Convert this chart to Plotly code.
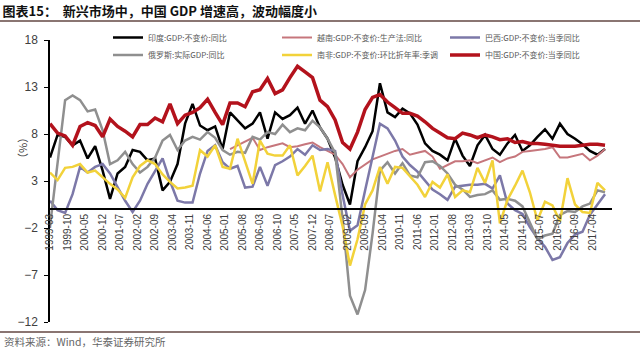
import pandas as pd
import plotly.graph_objects as go

# ---------------- data ----------------
quarters = pd.date_range("1999-03-01", periods=75, freq="3MS")

tick_labels = ["1999-03", "1999-10", "2000-05", "2000-12", "2001-07", "2002-02", "2002-09",
               "2003-04", "2003-11", "2004-06", "2005-01", "2005-08", "2006-03", "2006-10",
               "2007-05", "2007-12", "2008-07", "2009-02", "2009-09", "2010-04", "2010-11",
               "2011-06", "2012-01", "2012-08", "2013-03", "2013-10", "2014-05", "2014-12",
               "2015-07", "2016-02", "2016-09", "2017-04"]

india = [5.5, 7.9, 7.7, 6.8, 7.3, 5.4, 6.7, 4.1, 1.1, 3.8, 4.5, 6.3, 6.1, 5.2, 5.4, 2.0,
         2.9, 4.8, 9.1, 11.2, 8.9, 8.4, 8.8, 6.4, 10.3, 9.5, 8.6, 9.1, 10.3, 7.5, 10.3, 9.6,
         10.0, 10.8, 9.1, 10.5, 8.7, 7.5, 5.5, 2.6, 0.5, 5.1, 6.6, 8.3, 13.4, 10.3, 9.8, 10.7,
         10.2, 9.0, 7.0, 6.2, 5.8, 5.2, 7.5, 5.7, 4.6, 6.8, 7.9, 6.4, 5.8, 7.0, 7.9, 6.2,
         6.8, 7.7, 8.5, 7.5, 9.1, 8.0, 7.5, 6.9, 6.2, 5.8, 6.4]

vietnam = [None] * 24 + [
         6.4, 6.8, 7.2, 7.6, 6.3, 6.6, 6.8, 7.0,
         6.6, 6.7, 6.9, 7.1, 6.6, 6.2, 5.8, 4.8, 3.4, 4.2, 4.8, 5.3, 5.6, 5.9, 6.2, 6.4,
         5.8, 6.0, 6.2, 5.6, 4.3, 4.7, 5.1, 5.1, 5.2, 4.9, 5.2, 5.5, 5.0, 5.4, 5.6, 6.1,
         6.2, 6.3, 6.4, 6.6, 5.5, 5.5, 5.7, 5.9, 5.2, 5.7, 6.4]

brazil = [0.9, -0.1, -0.4, 1.6, 4.5, 3.9, 4.5, 4.8, 3.8, 2.3, 0.9, -0.3, 0.9, 2.7, 4.1, 5.4,
          3.0, 0.9, 0.7, 0.7, 3.8, 6.2, 6.8, 5.0, 4.3, 4.6, 2.3, 2.4, 4.5, 2.5, 4.7, 5.1,
          5.6, 6.4, 5.8, 6.8, 6.3, 6.4, 6.2, 1.5, -2.3, -1.7, 2.0, 5.5, 9.1, 8.6, 7.3, 5.6,
          4.7, 4.0, 3.0, 2.1, 1.6, 1.0, 2.4, 2.5, 2.6, 2.6, 2.7, 2.2, 3.6, 0.6, -0.1, -0.5,
          -1.9, -3.1, -4.0, -5.4, -5.1, -3.6, -2.7, -2.4, -0.6, 0.5, 1.6]

russia = [-1.8, 4.8, 11.6, 12.1, 11.6, 10.4, 10.6, 8.4, 4.8, 5.2, 6.1, 4.8, 3.9, 4.5, 5.5, 7.3,
          7.9, 6.3, 7.3, 7.7, 7.4, 8.2, 7.6, 6.3, 5.8, 6.1, 6.0, 7.7, 7.4, 8.2, 8.0, 9.0,
          8.2, 8.6, 8.4, 9.4, 8.7, 7.5, 6.0, -1.0, -9.2, -11.2, -8.6, -2.6, 4.1, 5.0, 3.8, 4.9,
          3.6, 3.4, 5.0, 5.1, 4.6, 3.8, 2.6, 2.1, 1.3, 1.5, 1.6, 2.0, 1.0, 1.1, 0.9, 0.3,
          -1.5, -3.2, -2.8, -2.6, -0.6, -0.2, -0.3, 0.3, 0.6, 2.0, 1.8]

south_africa = [3.9, 3.1, 4.4, 4.5, 4.8, 3.9, 4.1, 3.4, 2.7, 2.1, 1.2, 3.4, 4.6, 5.2, 4.8, 3.7,
                2.9, 2.2, 2.3, 2.5, 6.3, 5.6, 6.8, 4.5, 4.3, 7.5, 5.2, 2.7, 7.3, 5.9, 5.7, 5.7,
                6.8, 3.6, 4.6, 5.7, 1.9, 5.0, 1.5, -1.8, -6.0, -3.2, 0.5, 2.0, 4.5, 2.7, 4.5, 4.4,
                3.5, 2.6, 1.3, 2.9, 2.3, 3.7, 1.3, 2.0, 1.8, 4.4, 2.8, 5.2, -1.5, 1.0, 2.5, 4.1,
                1.8, -1.2, 0.8, 0.4, -1.3, 3.3, 0.5, -0.3, -0.4, 2.8, 2.0]

china = [9.1, 8.1, 7.8, 6.8, 8.8, 9.2, 8.9, 7.7, 9.6, 8.8, 8.3, 7.7, 9.0, 9.0, 9.7, 9.3,
         11.2, 9.1, 10.0, 10.3, 10.8, 11.7, 10.3, 9.0, 11.3, 11.3, 10.9, 12.5, 12.7, 13.9, 12.3, 12.7,
         14.0, 15.2, 14.6, 14.0, 11.6, 10.9, 9.5, 7.1, 6.4, 8.2, 10.6, 11.9, 12.2, 11.4, 10.8, 10.2,
         10.2, 9.9, 9.3, 8.6, 8.1, 7.6, 7.5, 8.1, 7.9, 7.6, 7.9, 7.7, 7.4, 7.5, 7.1, 7.2,
         7.0, 7.0, 6.9, 6.8, 6.7, 6.7, 6.7, 6.8, 6.9, 6.9, 6.8]

series_names = ["印度:GDP:不变价:同比", "越南:GDP:不变价:生产法:同比", "巴西:GDP:不变价:当季同比",
                "俄罗斯:实际GDP:同比", "南非:GDP:不变价:环比折年率:季调", "中国:GDP:不变价:当季同比"]
series_values = [india, vietnam, brazil, russia, south_africa, china]
series_colors = ["#000000", "#C6767C", "#7C78A8", "#8F8F8F", "#F2D23A", "#B3121C"]
series_widths = [2.5, 2.0, 2.5, 2.5, 2.5, 3.5]

title_text = "<b>图表15：  新兴市场中，中国 GDP 增速高，波动幅度小</b>"
source_text = "资料来源：Wind，华泰证券研究所"

# ---------------- layout helpers (pixel -> paper) ----------------
W, H = 640, 352
ML, MR, MT, MB = 50, 28, 40, 30
PW, PH = W - ML - MR, H - MT - MB


def px(xp):
    return (xp - ML) / PW


def py(yp):
    return (H - MB - yp) / PH


CJK = "Noto Sans CJK SC"
LAT = "Liberation Sans, Arial, sans-serif"

fig = go.Figure()

legend_pos = [(113, 37.5), (282, 37.5), (450, 37.5), (113, 55), (282, 55), (450, 55)]
legend_keys = ["legend", "legend2", "legend3", "legend4", "legend5", "legend6"]

for name, vals, col, w, lk in zip(series_names, series_values, series_colors, series_widths, legend_keys):
    fig.add_trace(go.Scatter(x=quarters, y=vals, mode="lines", name=name,
                             line=dict(color=col, width=w), legend=lk,
                             connectgaps=False))

legend_layout = {}
for lk, (lx, ly) in zip(legend_keys, legend_pos):
    legend_layout[lk] = dict(x=px(lx - 5), y=py(ly), xanchor="left", yanchor="middle",
                             orientation="h", bgcolor="rgba(0,0,0,0)", borderwidth=0,
                             font=dict(family=CJK, size=8, color="#595959"), itemwidth=30)

fig.update_layout(
    width=W, height=H,
    margin=dict(l=ML, r=MR, t=MT, b=MB, pad=0),
    paper_bgcolor="white", plot_bgcolor="white",
    showlegend=True,
    title=dict(text=title_text, xref="container", yref="container", x=0.004, y=1 - 11 / H,
               xanchor="left", yanchor="middle", font=dict(family=CJK, size=13, color="#111111")),
    **legend_layout,
)

fig.update_xaxes(
    type="date",
    range=["1999-03-01", "2017-11-25"],
    tickvals=tick_labels, ticktext=tick_labels, tickangle=-90,
    tickfont=dict(family=LAT, size=10, color="#404040"),
    showgrid=False, zeroline=False,
    showline=True, linecolor="black", linewidth=1.5,
    anchor="free", position=12 / 30,
    ticks="",
)

fig.update_yaxes(
    range=[-12, 18], tickvals=[-12, -7, -2, 3, 8, 13, 18],
    tickfont=dict(family=LAT, size=12, color="#404040"),
    showgrid=False, zeroline=False,
    showline=True, linecolor="black", linewidth=1.5,
    ticks="outside", ticklen=4, tickcolor="black", tickwidth=1,
    ticklabelstandoff=4,
)

# decorative rules
fig.add_shape(type="line", xref="paper", yref="paper", x0=px(0), x1=px(W), y0=py(21), y1=py(21),
              line=dict(color="#8A7572", width=2))
fig.add_shape(type="line", xref="paper", yref="paper", x0=px(0), x1=px(W), y0=py(332), y1=py(332),
              line=dict(color="#8A7572", width=2))

fig.add_annotation(text=source_text, xref="paper", yref="paper", x=px(2), y=py(341),
                   xanchor="left", yanchor="middle", showarrow=False,
                   font=dict(family=CJK, size=10.5, color="#666666"))
fig.add_annotation(text="（%）", xref="paper", yref="paper", x=px(22), y=py(148),
                   xanchor="center", yanchor="middle", showarrow=False, textangle=-90,
                   font=dict(family=CJK, size=11, color="#404040"))

fig.write_html("out.html")
